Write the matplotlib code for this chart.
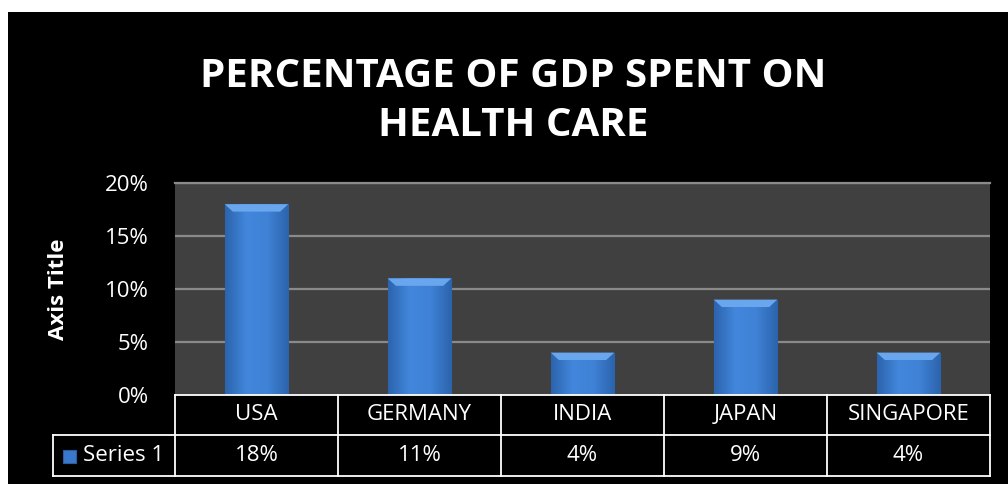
import numpy as np
import matplotlib.pyplot as plt
from matplotlib.patches import Rectangle, Polygon
from matplotlib.colors import LinearSegmentedColormap
import matplotlib.transforms as mtransforms

# chart data
countries = ['USA', 'GERMANY', 'INDIA', 'JAPAN', 'SINGAPORE']
share = [18, 11, 4, 9, 4]          # percent of GDP
value_labels = ['18%', '11%', '4%', '9%', '4%']
series_name = 'Series 1'
yticks = [0, 5, 10, 15, 20]

plt.rcParams['font.family'] = ['Open Sans', 'DejaVu Sans']

W, H = 1008, 484
fig = plt.figure(figsize=(W / 100, H / 100), dpi=100)
fig.patch.set_facecolor('white')

def fx(px):
    return px / W

def fy(py):
    return 1 - py / H

# black chart background, leaving the thin white margin top/left
fig.patches.append(Rectangle((fx(8), 0), 1 - fx(8), fy(12), transform=fig.transFigure,
                             facecolor='black', edgecolor='none', zorder=-10))

ax = fig.add_axes([fx(175), fy(395), fx(990) - fx(175), fy(183) - fy(395)])
ax.set_facecolor('#404040')
x = np.arange(len(countries))

for t in yticks[1:]:
    ax.axhline(t, color='#8a8a8a', lw=1.6, zorder=1)

bars = ax.bar(x, share, width=0.39, color='#3a78cc', edgecolor='#2b5e9e', lw=0.8, zorder=2)

# horizontal shading on each bar, plus a lighter bevel on top
cmap = LinearSegmentedColormap.from_list('barshade', ['#2c64ad', '#4287dc', '#3f82d6', '#2c64ad'])
grad = np.linspace(0, 1, 64).reshape(1, -1)
for b in bars:
    x0, w, h = b.get_x(), b.get_width(), b.get_height()
    im = ax.imshow(grad, extent=[x0, x0 + w, 0, h], aspect='auto', cmap=cmap, zorder=3)
    im.set_clip_path(b)
    bev = 0.7
    ax.add_patch(Polygon([[x0, h], [x0 + w, h], [x0 + w - 0.05, h - bev], [x0 + 0.05, h - bev]],
                         closed=True, facecolor='#6aa6ee', edgecolor='none', zorder=4))
ax.set_ylim(0, 20)
ax.set_xlim(-0.5, len(countries) - 0.5)

ax.set_xticks([])
ax.set_yticks(yticks)
ax.set_yticklabels([f'{t}%' for t in yticks], color='white', fontsize=16)
ax.tick_params(axis='y', length=0, pad=19)
for side in ['left', 'right', 'bottom']:
    ax.spines[side].set_visible(False)
ax.spines['top'].set_color('#8a8a8a')
ax.spines['top'].set_linewidth(1.6)

fig.text(fx(59), fy(289), 'Axis Title', rotation=90, color='white', fontsize=16,
         fontweight='bold', ha='center', va='center')

fig.text(fx(513), fy(101), 'PERCENTAGE OF GDP SPENT ON\nHEALTH CARE', color='white',
         fontsize=29, fontweight='bold', ha='center', va='center', linespacing=1.35)

# data table under the plot
trans = mtransforms.blended_transform_factory(ax.transData, fig.transFigure)
row_top, row_mid, row_bot = fy(395), fy(435), fy(476)
lc = 'white'
lw = 1.3
edges = list(x - 0.5) + [x[-1] + 0.5]
for e in edges:
    fig.add_artist(plt.Line2D([e, e], [row_bot, row_top], transform=trans, color=lc, lw=lw))
fig.add_artist(plt.Line2D([edges[0], edges[-1]], [row_top, row_top], transform=trans, color=lc, lw=lw))
fig.add_artist(plt.Line2D([fx(53), fx(990)], [row_mid, row_mid], transform=fig.transFigure, color=lc, lw=lw))
fig.add_artist(plt.Line2D([fx(53), fx(990)], [row_bot, row_bot], transform=fig.transFigure, color=lc, lw=lw))
fig.add_artist(plt.Line2D([fx(53), fx(53)], [row_bot, row_mid], transform=fig.transFigure, color=lc, lw=lw))

for xi, name, lab in zip(x, countries, value_labels):
    fig.text(0, (row_top + row_mid) / 2, name, transform=trans, color='white', fontsize=16,
             ha='center', va='center').set_x(xi)
    fig.text(0, (row_mid + row_bot) / 2, lab, transform=trans, color='white', fontsize=16,
             ha='center', va='center').set_x(xi)

# legend key in the series cell
fig.patches.append(Rectangle((fx(63), fy(463)), fx(13), fy(450) - fy(463), transform=fig.transFigure,
                             facecolor='#3a78cc', edgecolor='#2b5e9e', lw=0.8))
fig.text(fx(83), (row_mid + row_bot) / 2, series_name, color='white', fontsize=16,
         ha='left', va='center')

fig.savefig('out.png', dpi=100, facecolor=fig.get_facecolor())
